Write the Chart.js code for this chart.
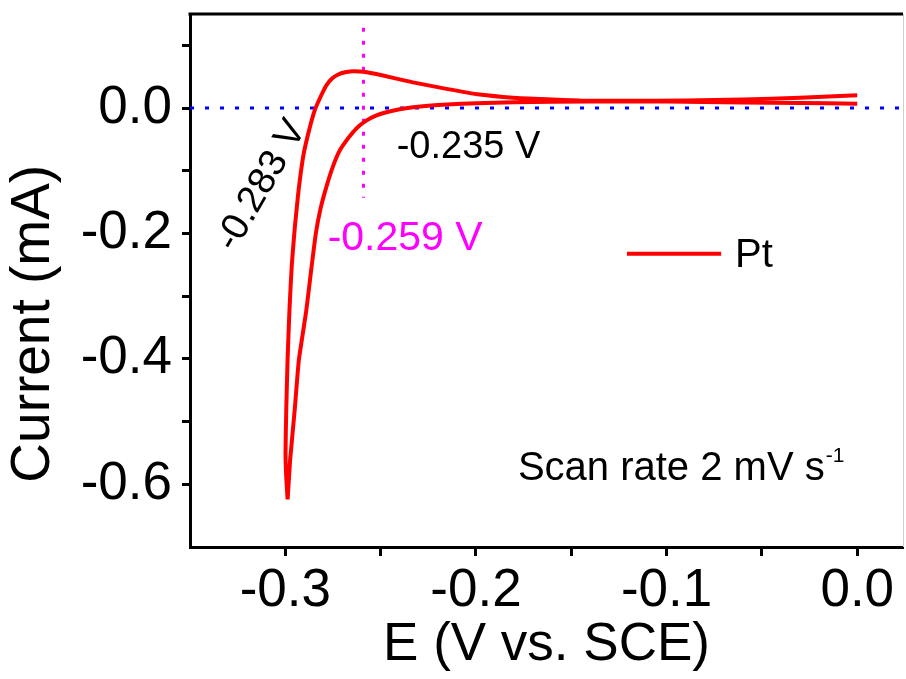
<!DOCTYPE html>
<html>
<head>
<meta charset="utf-8">
<script src="https://cdn.jsdelivr.net/npm/chart.js@4.4.0/dist/chart.umd.min.js"></script>
<style>
  html, body { margin: 0; padding: 0; background: #fff; }
  #wrap { width: 906px; height: 679px; }
</style>
</head>
<body>
<div id="wrap"><canvas id="cv" width="906" height="679"></canvas></div>
<script>
// cathodic sweep, 0 V down to -0.3 V
const fwdE = [0, -0.03, -0.06, -0.1, -0.14, -0.18, -0.2, -0.215, -0.225, -0.233, -0.24, -0.247, -0.2525,
  -0.2575, -0.2615, -0.2645, -0.268, -0.2715, -0.275, -0.2785, -0.2815, -0.284, -0.2865, -0.289,
  -0.2929, -0.2951, -0.2975, -0.2985, -0.2988];
const fwdI = [0.007, 0.008, 0.009, 0.0105, 0.0105, 0.0092, 0.0078, 0.0058, 0.0038, 0.0013, -0.002, -0.0067, -0.012,
  -0.02, -0.029, -0.0386, -0.052, -0.068, -0.093, -0.126, -0.16, -0.2, -0.26, -0.323,
  -0.402, -0.482, -0.562, -0.61, -0.624];
// return sweep, -0.3 V back to 0 V
const revE = [-0.2988, -0.2995, -0.2999, -0.2995, -0.2988, -0.2978, -0.2966, -0.295, -0.293, -0.2905,
  -0.2875, -0.2845, -0.2815, -0.2785, -0.2755, -0.272, -0.268, -0.264, -0.259, -0.2505, -0.233,
  -0.2155, -0.198, -0.1806, -0.163, -0.1455, -0.12, -0.09, -0.06, -0.03, 0];
const revI = [-0.624, -0.59, -0.55, -0.48, -0.4, -0.32, -0.25, -0.19, -0.13, -0.075,
  -0.035, -0.003, 0.018, 0.036, 0.047, 0.054, 0.0575, 0.0588, 0.0578, 0.053, 0.041,
  0.0306, 0.0215, 0.0165, 0.014, 0.012, 0.0115, 0.012, 0.0135, 0.0165, 0.0205];

const xMajor = [-0.3, -0.2, -0.1, 0.0];
const yMajor = [0.0, -0.2, -0.4, -0.6];

const peakE = -0.259;    // anodic peak marker
const onsetE = -0.235;   // onset on the cathodic sweep
const crossE = -0.283;   // zero crossing on the return sweep

const FONT = "'Liberation Sans', Arial, sans-serif";

const pts = (xs, ys) => xs.map((v, i) => ({x: v, y: ys[i]}));
const cvData = pts(fwdE, fwdI).concat(pts(revE, revI));

const isMajor = (v, list) => list.some(m => Math.abs(m - v) < 1e-6);

const extras = {
  id: 'extras',
  afterDraw(chart) {
    const {ctx, chartArea: a, scales: {x, y}} = chart;
    ctx.save();
    // frame: top line and thin right edge
    ctx.strokeStyle = '#000';
    ctx.lineWidth = 3;
    ctx.beginPath();
    ctx.moveTo(a.left - 1.5, a.top);
    ctx.lineTo(a.right, a.top);
    ctx.stroke();
    ctx.strokeStyle = '#cfcfcf';
    ctx.lineWidth = 1;
    ctx.beginPath();
    ctx.moveTo(a.right + 0.5, a.top);
    ctx.lineTo(a.right + 0.5, a.bottom);
    ctx.stroke();

    // y axis title
    ctx.fillStyle = '#000';
    ctx.font = '55px ' + FONT;
    ctx.textAlign = 'center';
    ctx.textBaseline = 'middle';
    ctx.save();
    ctx.translate(34, y.getPixelForValue(-0.344));
    ctx.rotate(-Math.PI / 2);
    ctx.fillText('Current (mA)', 0, 0);
    ctx.restore();

    // peak potentials
    ctx.textAlign = 'left';
    ctx.textBaseline = 'alphabetic';
    ctx.font = '38px ' + FONT;
    ctx.fillText(onsetE.toFixed(3) + ' V', x.getPixelForValue(-0.2416), y.getPixelForValue(-0.0789));
    ctx.fillStyle = '#ff00ff';
    ctx.font = '41px ' + FONT;
    ctx.fillText(peakE.toFixed(3) + ' V', x.getPixelForValue(-0.2778), y.getPixelForValue(-0.2271));

    ctx.fillStyle = '#000';
    ctx.font = '38px ' + FONT;
    ctx.save();
    ctx.translate(x.getPixelForValue(-0.3125), y.getPixelForValue(-0.1235));
    ctx.rotate(-60 * Math.PI / 180);
    ctx.textAlign = 'center';
    ctx.textBaseline = 'middle';
    ctx.fillText(crossE.toFixed(3) + ' V', 0, 0);
    ctx.restore();

    // scan rate note
    const sx = x.getPixelForValue(-0.178);
    const sy = y.getPixelForValue(-0.5936);
    ctx.font = '40px ' + FONT;
    const main = 'Scan rate 2 mV s';
    ctx.fillText(main, sx, sy);
    const w = ctx.measureText(main).width;
    ctx.font = '21px ' + FONT;
    ctx.fillText('-1', sx + w + 1, sy - 18);

    // legend
    const ly = y.getPixelForValue(-0.2323);
    ctx.strokeStyle = '#ff0000';
    ctx.lineWidth = 4;
    ctx.beginPath();
    ctx.moveTo(x.getPixelForValue(-0.1208), ly);
    ctx.lineTo(x.getPixelForValue(-0.0714), ly);
    ctx.stroke();
    ctx.fillStyle = '#000';
    ctx.font = '40px ' + FONT;
    ctx.fillText('Pt', x.getPixelForValue(-0.0641), y.getPixelForValue(-0.2537));
    ctx.restore();
  }
};

new Chart(document.getElementById('cv'), {
  type: 'scatter',
  data: {
    datasets: [
      {
        label: 'zero',
        data: [{x: -0.35, y: 0}, {x: 0.024, y: 0}],
        showLine: true,
        borderColor: '#0000ff',
        borderWidth: 3,
        borderDash: [4, 11],
        pointRadius: 0,
        order: 3
      },
      {
        label: 'peak',
        data: [{x: peakE, y: 0.128}, {x: peakE, y: -0.143}],
        showLine: true,
        borderColor: '#ff00ff',
        borderWidth: 3,
        borderDash: [4, 9],
        pointRadius: 0,
        order: 2
      },
      {
        label: 'Pt',
        data: cvData,
        showLine: true,
        borderColor: '#ff0000',
        borderWidth: 4,
        tension: 0.15,
        pointRadius: 0,
        order: 1
      }
    ]
  },
  options: {
    responsive: false,
    animation: false,
    layout: {padding: {top: 14, right: 3, left: 0, bottom: 0}},
    plugins: {legend: {display: false}, tooltip: {enabled: false}},
    scales: {
      x: {
        type: 'linear',
        min: -0.35,
        max: 0.024,
        afterFit: s => { s.height = 132; s.paddingLeft = 0; s.paddingRight = 0; },
        afterBuildTicks: s => {
          s.ticks = s.ticks.filter(t => Math.abs(t.value * 20 - Math.round(t.value * 20)) < 1e-6);
        },
        ticks: {
          stepSize: 0.05,
          includeBounds: false,
          autoSkip: false,
          maxRotation: 0,
          padding: 4,
          color: '#000',
          font: {family: FONT, size: 53},
          callback: v => isMajor(v, xMajor) ? (Math.round(v * 10) / 10).toFixed(1) : ''
        },
        grid: {drawOnChartArea: false, drawTicks: true, tickLength: 9, tickWidth: 3, tickColor: '#000'},
        border: {color: '#000', width: 3},
        title: {
          display: true,
          text: 'E (V vs. SCE)',
          color: '#000',
          font: {family: FONT, size: 53},
          padding: {top: 0, bottom: 2}
        }
      },
      y: {
        type: 'linear',
        min: -0.7,
        max: 0.15,
        afterFit: s => { s.width = 190; s.paddingTop = 0; s.paddingBottom = 0; },
        afterBuildTicks: s => {
          s.ticks = s.ticks.filter(t => Math.abs(t.value * 10 - Math.round(t.value * 10)) < 1e-6);
        },
        ticks: {
          stepSize: 0.1,
          includeBounds: false,
          autoSkip: false,
          padding: 10,
          color: '#000',
          font: {family: FONT, size: 53},
          callback: v => isMajor(v, yMajor) ? (Math.round(v * 10) / 10).toFixed(1) : ''
        },
        grid: {drawOnChartArea: false, drawTicks: true, tickLength: 8, tickWidth: 3, tickColor: '#000'},
        border: {color: '#000', width: 3}
      }
    }
  },
  plugins: [extras]
});
</script>
</body>
</html>
